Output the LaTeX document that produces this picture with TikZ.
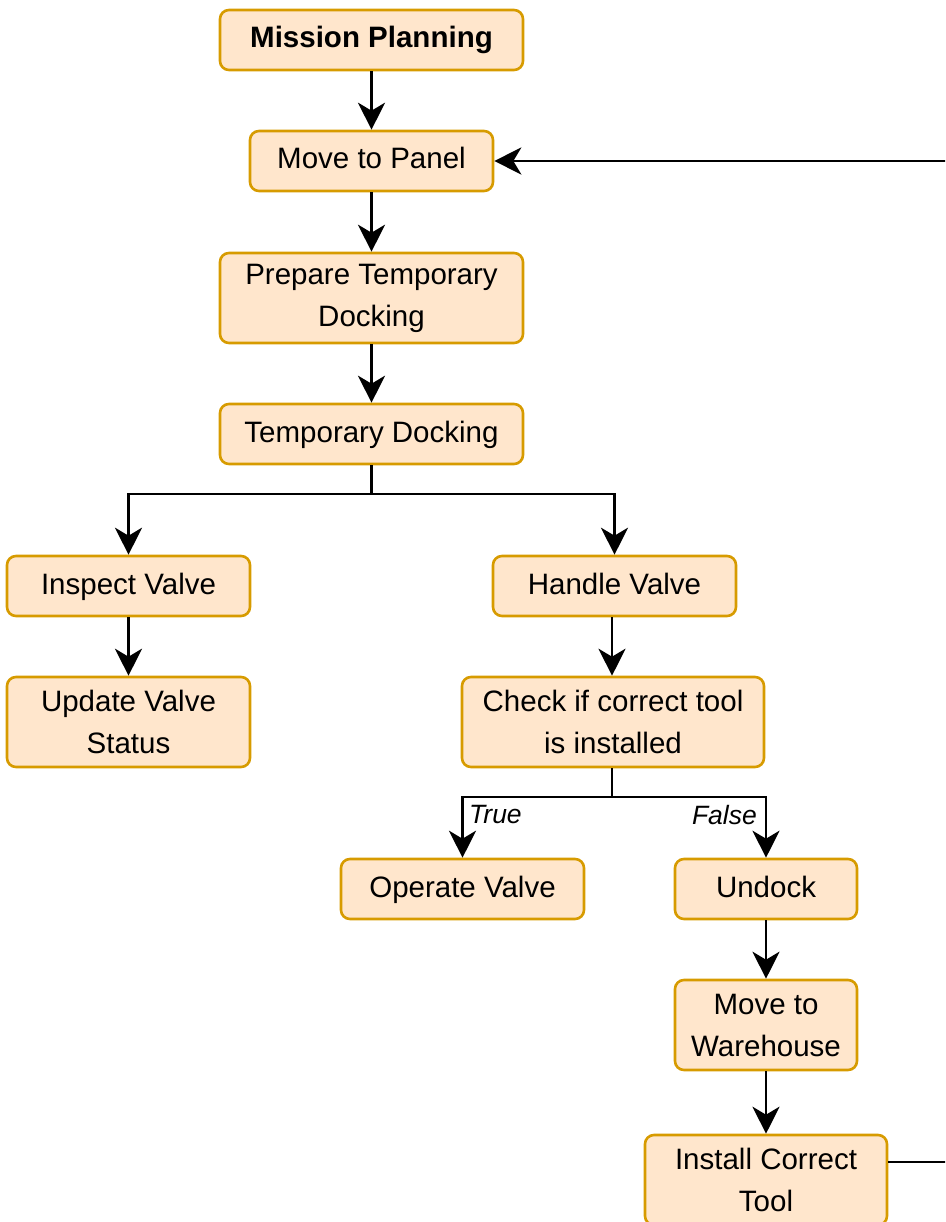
\documentclass[tikz,border=0pt]{standalone}
\usepackage{fontspec}
\setmainfont{Liberation Sans}
\usetikzlibrary{arrows.meta}
\definecolor{boxfill}{HTML}{FFE6CC}
\definecolor{boxline}{HTML}{D79B00}
\begin{document}
\begin{tikzpicture}[x=1pt,y=-1pt,
  box/.style={draw=boxline, fill=boxfill, line width=2.6pt, rounded corners=9pt,
    align=center, inner sep=0pt, font=\fontsize{29.5}{42}\selectfont},
  oneline/.style={text height=23pt, text depth=7pt},
  link/.style={line width=2.8pt},
  flow/.style={link, -{Stealth[length=27pt,width=27pt,inset=8pt]}},
  lbl/.style={inner sep=0pt, font=\fontsize{26.5}{30}\selectfont\itshape}]
\useasboundingbox (0,0) rectangle (945,1222);
\clip (0,0) rectangle (945,1222);

% process steps
\node[box, oneline, minimum width=303pt, minimum height=60pt, font=\fontsize{29.5}{42}\selectfont\bfseries] (mp) at (371.5,40) {Mission Planning};
\node[box, oneline, minimum width=243pt, minimum height=60pt] (mtp) at (371.5,161) {Move to Panel};
\node[box, minimum width=303pt, minimum height=90pt] (ptd) at (371.5,298) {Prepare Temporary\\Docking};
\node[box, oneline, minimum width=303pt, minimum height=60pt] (td) at (371.5,434) {Temporary Docking};
\node[box, oneline, minimum width=243pt, minimum height=60pt] (iv) at (128.5,586) {Inspect Valve};
\node[box, minimum width=243pt, minimum height=90pt] (uvs) at (128.5,722) {Update Valve\\Status};
\node[box, oneline, minimum width=243pt, minimum height=60pt] (hv) at (614.5,586) {Handle Valve};
\node[box, minimum width=302pt, minimum height=90pt] (ct) at (613,722) {Check if correct tool\\is installed};
\node[box, oneline, minimum width=243pt, minimum height=60pt] (ov) at (462.5,889) {Operate Valve};
\node[box, oneline, minimum width=182pt, minimum height=60pt] (ud) at (766,889) {Undock};
\node[box, minimum width=182pt, minimum height=90pt] (mw) at (766,1025) {Move to\\Warehouse};
\node[box, minimum width=242pt, minimum height=90pt] (ict) at (766,1180) {Install Correct\\Tool};

% junction points and loop route
\coordinate (s1) at (371.5,494);
\coordinate (s2) at (612,797);
\coordinate (r1) at (975,1162);
\coordinate (r2) at (975,161);

% connectors
\draw[flow] (mp) -- (mtp);
\draw[flow] (mtp) -- (ptd);
\draw[flow] (ptd) -- (td);
\draw[link] (td.south) -- (s1);
\draw[flow] (s1) -| (iv.north);
\draw[flow] (s1) -| (hv.north);
\draw[flow] (iv) -- (uvs);
\draw[flow] (hv.south -| s2) -- (ct.north -| s2);
\draw[link] (ct.south -| s2) -- (s2);
\draw[flow] (s2) -| (ov.north);
\draw[flow] (s2) -| (ud.north);
\draw[flow] (ud) -- (mw);
\draw[flow] (mw) -- (ict);
\draw[flow] ([yshift=18pt]ict.east) -- (r1) -- (r2) -- (mtp.east);

% branch labels
\node[lbl, anchor=west] (ltrue) at (469,815) {True};
\node[lbl, anchor=east] (lfalse) at (757,815) {False};
\end{tikzpicture}
\end{document}
